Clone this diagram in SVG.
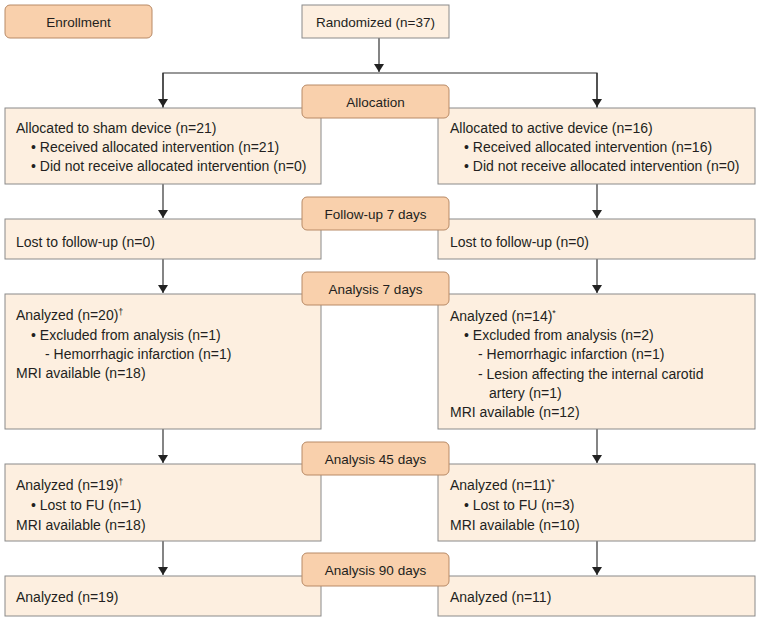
<svg xmlns="http://www.w3.org/2000/svg" width="758" height="621" viewBox="0 0 758 621">
<style>
.lab{fill:#f9d0ac;stroke:#b88a66;stroke-width:1}
.box{fill:#fdefe0;stroke:#8a8a8a;stroke-width:1}
text{font-family:"Liberation Sans",Arial,sans-serif;font-size:14px;fill:#231f20}
.c{text-anchor:middle;font-size:13.5px}
.sup{font-size:9px}
.ln{stroke:#333;stroke-width:1.2;fill:none}
</style>
<defs>
<marker id="ah" markerWidth="8" markerHeight="10" refX="8" refY="5" orient="auto" markerUnits="userSpaceOnUse">
<path d="M0,0 L8,5 L0,10 z" fill="#222"/>
</marker>
</defs>
<rect width="758" height="621" fill="#fff"/>
<g id="connectors">
<line class="ln" x1="379" y1="38" x2="379" y2="72" marker-end="url(#ah)"/>
<polyline class="ln" points="163,108 163,73 597,73 597,108" fill="none"/>
<line class="ln" x1="163" y1="73" x2="163" y2="107" marker-end="url(#ah)"/>
<line class="ln" x1="597" y1="73" x2="597" y2="107" marker-end="url(#ah)"/>
<line class="ln" x1="163" y1="184" x2="163" y2="218" marker-end="url(#ah)"/>
<line class="ln" x1="597" y1="184" x2="597" y2="218" marker-end="url(#ah)"/>
<line class="ln" x1="163" y1="259" x2="163" y2="293" marker-end="url(#ah)"/>
<line class="ln" x1="597" y1="259" x2="597" y2="293" marker-end="url(#ah)"/>
<line class="ln" x1="163" y1="429" x2="163" y2="463" marker-end="url(#ah)"/>
<line class="ln" x1="597" y1="429" x2="597" y2="463" marker-end="url(#ah)"/>
<line class="ln" x1="163" y1="541" x2="163" y2="575" marker-end="url(#ah)"/>
<line class="ln" x1="597" y1="541" x2="597" y2="575" marker-end="url(#ah)"/>
</g>
<g id="enrollment">
<rect class="lab" x="5" y="5" width="147" height="33" rx="5"/>
<text class="c" x="78.5" y="27">Enrollment</text>
</g>
<g id="randomized">
<rect class="box" x="302" y="5" width="147" height="33"/>
<text class="c" x="375.5" y="27">Randomized (n=37)</text>
</g>
<g id="alloc-left">
<rect class="box" x="5" y="108" width="316" height="76"/>
<text x="16" y="133">Allocated to sham device (n=21)</text>
<text x="31" y="152">• Received allocated intervention (n=21)</text>
<text x="31" y="171">• Did not receive allocated intervention (n=0)</text>
</g>
<g id="alloc-right">
<rect class="box" x="438" y="108" width="317" height="76"/>
<text x="450" y="133">Allocated to active device (n=16)</text>
<text x="464" y="152">• Received allocated intervention (n=16)</text>
<text x="464" y="171">• Did not receive allocated intervention (n=0)</text>
</g>
<g id="allocation">
<rect class="lab" x="302" y="85" width="147" height="33" rx="5"/>
<text class="c" x="375.5" y="107">Allocation</text>
</g>
<g id="fu-left">
<rect class="box" x="5" y="219" width="316" height="40"/>
<text x="16" y="247">Lost to follow-up (n=0)</text>
</g>
<g id="fu-right">
<rect class="box" x="438" y="219" width="317" height="40"/>
<text x="450" y="247">Lost to follow-up (n=0)</text>
</g>
<g id="followup">
<rect class="lab" x="302" y="197" width="147" height="33" rx="5"/>
<text class="c" x="375.5" y="219">Follow-up 7 days</text>
</g>
<g id="a7-left">
<rect class="box" x="5" y="294" width="316" height="135"/>
<text x="16" y="320">Analyzed (n=20)<tspan class="sup" dy="-5">†</tspan></text>
<text x="31" y="340">• Excluded from analysis (n=1)</text>
<text x="45" y="359">- Hemorrhagic infarction (n=1)</text>
<text x="16" y="378">MRI available (n=18)</text>
</g>
<g id="a7-right">
<rect class="box" x="438" y="294" width="317" height="135"/>
<text x="450" y="321">Analyzed (n=14)<tspan class="sup" dy="-5">*</tspan></text>
<text x="464" y="340">• Excluded from analysis (n=2)</text>
<text x="478" y="359">- Hemorrhagic infarction (n=1)</text>
<text x="478" y="379">- Lesion affecting the internal carotid</text>
<text x="489" y="398">artery (n=1)</text>
<text x="450" y="417">MRI available (n=12)</text>
</g>
<g id="analysis7">
<rect class="lab" x="302" y="272" width="147" height="33" rx="5"/>
<text class="c" x="375.5" y="294">Analysis 7 days</text>
</g>
<g id="a45-left">
<rect class="box" x="5" y="464" width="316" height="77"/>
<text x="16" y="490">Analyzed (n=19)<tspan class="sup" dy="-5">†</tspan></text>
<text x="31" y="510">• Lost to FU (n=1)</text>
<text x="16" y="530">MRI available (n=18)</text>
</g>
<g id="a45-right">
<rect class="box" x="438" y="464" width="317" height="77"/>
<text x="450" y="490">Analyzed (n=11)<tspan class="sup" dy="-5">*</tspan></text>
<text x="464" y="510">• Lost to FU (n=3)</text>
<text x="450" y="530">MRI available (n=10)</text>
</g>
<g id="analysis45">
<rect class="lab" x="302" y="442" width="147" height="33" rx="5"/>
<text class="c" x="375.5" y="464">Analysis 45 days</text>
</g>
<g id="a90-left">
<rect class="box" x="5" y="576" width="316" height="40"/>
<text x="16" y="602">Analyzed (n=19)</text>
</g>
<g id="a90-right">
<rect class="box" x="438" y="576" width="317" height="40"/>
<text x="450" y="602">Analyzed (n=11)</text>
</g>
<g id="analysis90">
<rect class="lab" x="302" y="553" width="147" height="33" rx="5"/>
<text class="c" x="375.5" y="575">Analysis 90 days</text>
</g>
</svg>
